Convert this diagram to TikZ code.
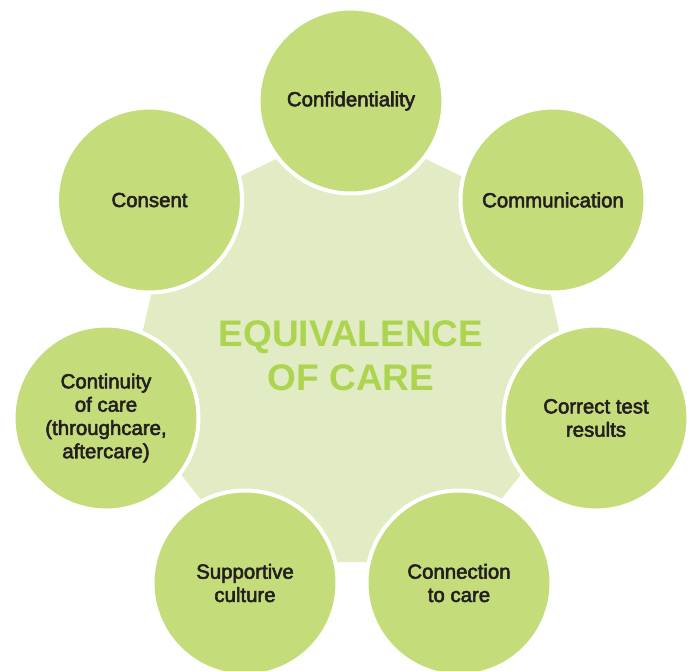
\documentclass[tikz,border=0pt]{standalone}
\usepackage{fontspec}
\usetikzlibrary{shapes.geometric}
\setmainfont{Liberation Sans}
\newfontfamily\labfont{Liberation Sans}[FakeBold=2.6]
\newfontfamily\ttlfont{Liberation Sans}
\definecolor{bubblegreen}{RGB}{196,220,122}
\definecolor{heptgreen}{RGB}{225,236,196}
\definecolor{titlegreen}{RGB}{172,212,78}
\definecolor{labelink}{RGB}{35,31,32}
\begin{document}
\begin{tikzpicture}[x=1pt,y=-1pt,
  bubble/.style={circle, fill=bubblegreen, draw=white, line width=4pt,
    minimum size=185pt, inner sep=0pt, outer sep=0pt, align=center,
    text=labelink, font=\labfont\fontsize{20.4}{23.3}\selectfont},
  hept/.style={regular polygon, regular polygon sides=7, fill=heptgreen,
    draw=none, minimum size=462pt, inner sep=0pt, outer sep=0pt},
  ttl/.style={align=center, text=titlegreen,
    font=\ttlfont\bfseries\fontsize{37}{44}\selectfont}]
\useasboundingbox (0,0) rectangle (694,670);
\clip (0,0) rectangle (694,670);
\node[hept] (core) at (351,354) {};
\node[bubble] (conf) at (351,101) {Confidentiality};
\node[bubble] (comm) at (553,200) {Communication};
\node[bubble] (test) at (596,418) {Correct test\\results};
\node[bubble] (conn) at (459,583) {Connection\\to care};
\node[bubble] (supp) at (245,583) {Supportive\\culture};
\node[bubble] (cont) at (106,418) {Continuity\\of care\\(throughcare,\\aftercare)};
\node[bubble] (cons) at (149.5,200) {Consent};
\node[ttl] (title) at (351,356) {EQUIVALENCE\\OF CARE};
\end{tikzpicture}
\end{document}
